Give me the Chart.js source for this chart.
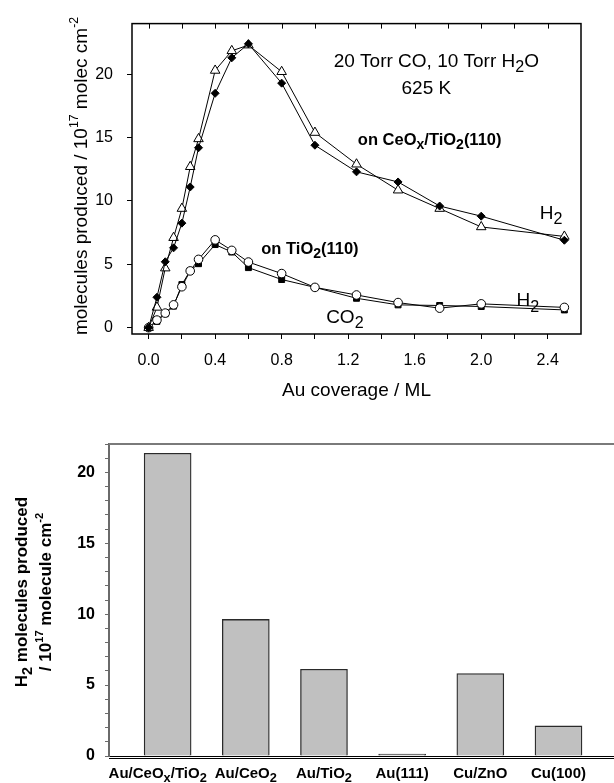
<!DOCTYPE html>
<html>
<head>
<meta charset="utf-8">
<script src="https://cdn.jsdelivr.net/npm/chart.js@4.4.0/dist/chart.umd.min.js"></script>
<style>
  html, body { margin: 0; padding: 0; background: #fff; }
  #wrap { position: relative; width: 614px; height: 783px; overflow: hidden; }
  canvas { position: absolute; left: 0; }
  #top { top: 0; }
  #bottom { top: 410px; }
</style>
</head>
<body>
<div id="wrap">
  <canvas id="top" width="614" height="410"></canvas>
  <canvas id="bottom" width="614" height="373"></canvas>
</div>
<script>
// ---- data ----
var coverage = [0, 0.05, 0.1, 0.15, 0.2, 0.25, 0.3, 0.4, 0.5, 0.6, 0.8, 1.0, 1.25, 1.5, 1.75, 2.0, 2.5];
// on CeOx/TiO2(110)
var ceoxDiamonds = [0, 2.4, 5.2, 6.3, 8.25, 11.1, 14.2, 18.5, 21.3, 22.4, 19.3, 14.4, 12.3, 11.5, 9.6, 8.8, 6.9];
var ceoxTriangles = [0, 1.6, 4.7, 7.1, 9.4, 12.7, 14.9, 20.3, 21.85, 22.3, 20.2, 15.4, 12.9, 10.85, 9.4, 7.95, 7.2];
// on TiO2(110)
var tio2Squares = [0, 0.5, 1.1, 1.7, 3.4, 4.5, 5.05, 6.56, 5.97, 4.74, 3.8, 3.18, 2.32, 1.8, 1.75, 1.67, 1.4];
var tio2Circles = [0, 0.6, 1.15, 1.8, 3.23, 4.48, 5.39, 6.93, 6.1, 5.18, 4.27, 3.18, 2.58, 1.98, 1.54, 1.88, 1.6];

var xTicks = [0, 0.2, 0.4, 0.6, 0.8, 1.0, 1.2, 1.4, 1.6, 1.8, 2.0, 2.2, 2.4];
var yTicks = [0, 5, 10, 15, 20];

var catalysts = ['Au/CeO_{x}/TiO_{2}', 'Au/CeO_{2}', 'Au/TiO_{2}', 'Au(111)', 'Cu/ZnO', 'Cu(100)'];
var h2Produced = [21.35, 9.63, 6.12, 0.14, 5.82, 2.12];

var FONT = '"Liberation Sans", Arial, Helvetica, sans-serif';

// tiny rich text helper: _{sub} and ^{sup}
function parseRich(str) {
  var parts = [], buf = '', i = 0;
  while (i < str.length) {
    var c = str[i];
    if ((c === '_' || c === '^') && str[i + 1] === '{') {
      if (buf) { parts.push({ t: buf, k: 0 }); buf = ''; }
      var end = str.indexOf('}', i);
      parts.push({ t: str.slice(i + 2, end), k: c === '_' ? 1 : -1 });
      i = end + 1;
    } else { buf += c; i++; }
  }
  if (buf) parts.push({ t: buf, k: 0 });
  return parts;
}
function partFont(p, size, bold) {
  var s = p.k === 0 ? size : (p.k === 1 ? size * 0.85 : size * 0.65);
  return (bold ? 'bold ' : '') + s.toFixed(1) + 'px ' + FONT;
}
function richWidth(ctx, str, size, bold) {
  var w = 0;
  parseRich(str).forEach(function (p) { ctx.font = partFont(p, size, bold); w += ctx.measureText(p.t).width; });
  return w;
}
function drawRich(ctx, str, x, y, size, bold, rotate) {
  var parts = parseRich(str);
  var w = richWidth(ctx, str, size, bold);
  ctx.save();
  ctx.translate(x, y);
  if (rotate) ctx.rotate(-Math.PI / 2);
  ctx.fillStyle = '#000';
  ctx.textBaseline = 'alphabetic';
  ctx.textAlign = 'left';
  var cx = -w / 2, base = size * 0.35;
  parts.forEach(function (p) {
    ctx.font = partFont(p, size, bold);
    var dy = p.k === 1 ? size * 0.28 : (p.k === -1 ? -size * 0.45 : 0);
    ctx.fillText(p.t, cx, base + dy);
    cx += ctx.measureText(p.t).width;
  });
  ctx.restore();
}

function pts(ys) {
  return coverage.map(function (x, i) { return { x: x, y: ys[i] }; });
}

// ---- top chart ----
var topDecor = {
  id: 'topDecor',
  afterDraw: function (chart) {
    var ctx = chart.ctx, a = chart.chartArea, xs = chart.scales.x, ys = chart.scales.y;
    ctx.save();
    ctx.strokeStyle = '#000';
    ctx.lineWidth = 1.5;
    ctx.strokeRect(a.left, a.top, a.right - a.left, a.bottom - a.top);
    ctx.lineWidth = 1;
    xTicks.forEach(function (v) {
      var px = Math.round(xs.getPixelForValue(v)) + 0.5;
      ctx.beginPath(); ctx.moveTo(px, a.top); ctx.lineTo(px, a.top + 5); ctx.stroke();
    });
    ctx.restore();

    function at(str, x, y, size, bold) {
      drawRich(ctx, str, xs.getPixelForValue(x), ys.getPixelForValue(y), size, bold, false);
    }
    at('20 Torr CO, 10 Torr H_{2}O', 1.73, 21.1, 19, false);
    at('625 K', 1.67, 19.0, 19, false);
    at('on CeO_{x}/TiO_{2}(110)', 1.69, 14.9, 16.5, true);
    at('on TiO_{2}(110)', 0.97, 6.3, 16.5, true);
    at('H_{2}', 2.42, 9.1, 19, false);
    at('H_{2}', 2.28, 2.2, 19, false);
    at('CO_{2}', 1.18, 0.9, 19, false);

    drawRich(ctx, 'molecules produced / 10^{17} molec cm^{-2}', 80, 176, 19, false, true);
    drawRich(ctx, 'Au coverage / ML', (a.left + a.right) / 2, 389, 19, false, false);
  }
};

new Chart(document.getElementById('top'), {
  type: 'line',
  data: {
    datasets: [
      { data: pts(ceoxDiamonds), pointStyle: 'rectRot', pointRadius: 4, backgroundColor: '#000', order: 1 },
      { data: pts(ceoxTriangles), pointStyle: 'triangle', pointRadius: 5.5, backgroundColor: '#fff', order: 2 },
      { data: pts(tio2Squares), pointStyle: 'rect', pointRadius: 4.2, backgroundColor: '#000', order: 4 },
      { data: pts(tio2Circles), pointStyle: 'circle', pointRadius: 4.3, backgroundColor: '#fff', order: 3 }
    ].map(function (d) {
      d.borderColor = '#000';
      d.borderWidth = 1;
      d.pointBorderWidth = 1;
      d.tension = 0;
      d.fill = false;
      return d;
    })
  },
  options: {
    responsive: false,
    animation: false,
    layout: { padding: { left: 0, right: 33, top: 20, bottom: 0 } },
    plugins: { legend: { display: false }, tooltip: { enabled: false } },
    scales: {
      x: {
        type: 'linear', min: -0.1, max: 2.6,
        afterBuildTicks: function (s) { s.ticks = xTicks.map(function (v) { return { value: v }; }); },
        afterFit: function (s) { s.height = 76; },
        grid: { drawOnChartArea: false, tickLength: 5, tickColor: '#000' },
        border: { display: false },
        ticks: {
          autoSkip: false, maxRotation: 0, padding: 12, color: '#000',
          font: { family: FONT, size: 16 },
          callback: function (v) {
            var q = v / 0.4;
            return Math.abs(q - Math.round(q)) < 1e-6 ? v.toFixed(1) : '';
          }
        }
      },
      y: {
        type: 'linear', min: -0.5, max: 24,
        afterBuildTicks: function (s) { s.ticks = yTicks.map(function (v) { return { value: v }; }); },
        afterFit: function (s) { s.width = 132; },
        grid: { drawOnChartArea: false, tickLength: 5, tickColor: '#000' },
        border: { display: false },
        ticks: { padding: 14, color: '#000', font: { family: FONT, size: 16 } }
      }
    }
  },
  plugins: [topDecor]
});

// ---- bottom chart ----
var bottomDecor = {
  id: 'bottomDecor',
  afterDraw: function (chart) {
    var ctx = chart.ctx, a = chart.chartArea, xs = chart.scales.x;
    ctx.save();
    ctx.strokeStyle = '#7a7a7a';
    ctx.lineWidth = 2;
    ctx.beginPath(); ctx.moveTo(a.left, a.top); ctx.lineTo(a.right, a.top); ctx.stroke();
    ctx.strokeStyle = '#000';
    ctx.lineWidth = 1;
    ctx.beginPath(); ctx.moveTo(a.left, a.bottom + 2.5); ctx.lineTo(a.right, a.bottom + 2.5); ctx.stroke();
    ctx.restore();

    // category labels, nudged left when they would run into the next one
    var centers = catalysts.map(function (c, i) { return xs.getPixelForValue(i); });
    var widths = catalysts.map(function (c) { return richWidth(ctx, c, 15, true); });
    catalysts.forEach(function (c, i) {
      var cx = centers[i];
      if (i < catalysts.length - 1) {
        var nextLeft = centers[i + 1] - widths[i + 1] / 2;
        cx = Math.min(cx, nextLeft - 8 - widths[i] / 2);
      }
      drawRich(ctx, c, cx, 363, 15, true, false);
    });

    drawRich(ctx, 'H_{2} molecules produced', 21, 182, 17, true, true);
    drawRich(ctx, '/ 10^{17} molecule cm^{-2}', 45, 182, 17, true, true);
  }
};

new Chart(document.getElementById('bottom'), {
  type: 'bar',
  data: {
    datasets: [{
      data: h2Produced.map(function (v, i) { return { x: i, y: v }; }),
      backgroundColor: '#c0c0c0',
      borderColor: '#2a2a2a',
      borderWidth: 1.3,
      barThickness: 47
    }]
  },
  options: {
    responsive: false,
    animation: false,
    layout: { padding: { left: 0, right: 0, top: 34, bottom: 0 } },
    plugins: { legend: { display: false }, tooltip: { enabled: false } },
    scales: {
      x: {
        type: 'linear', min: -0.75, max: 5.71, offset: false,
        afterFit: function (s) { s.height = 27; },
        grid: { display: false },
        border: { display: true, color: '#000', width: 1 },
        ticks: { display: false }
      },
      y: {
        min: 0, max: 22,
        afterFit: function (s) { s.width = 109; },
        grid: { drawOnChartArea: false, tickLength: 4, tickColor: '#6a6a6a' },
        border: { color: '#6a6a6a', width: 2 },
        ticks: {
          stepSize: 1, autoSkip: false, padding: 10, color: '#000',
          font: { family: FONT, size: 16, weight: 'bold' },
          callback: function (v) { return v % 5 === 0 ? v : ''; }
        }
      }
    }
  },
  plugins: [bottomDecor]
});
</script>
</body>
</html>
